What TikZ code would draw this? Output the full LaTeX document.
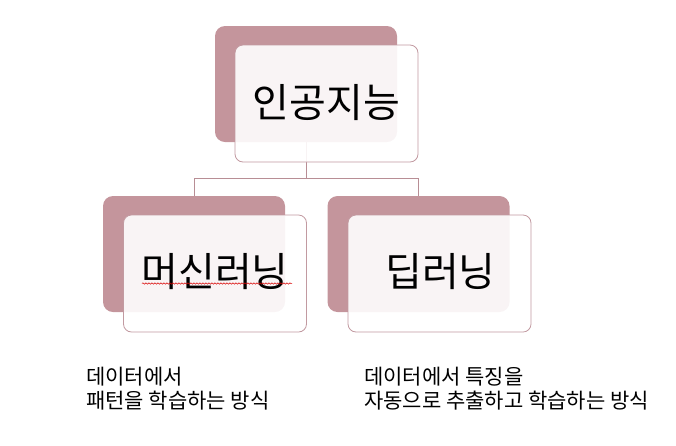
\documentclass[tikz,border=0pt]{standalone}
\usepackage{fontspec}
\setmainfont{Noto Sans CJK KR}
\usepackage{tikz}
\usetikzlibrary{positioning,calc,decorations.pathmorphing}
\definecolor{roseDark}{HTML}{C4959C}
\definecolor{roseLine}{HTML}{C29AA1}
\definecolor{roseLink}{HTML}{B88E95}
\tikzset{
  backBox/.style={fill=roseDark, rounded corners=10pt,
    minimum width=182pt, minimum height=116pt, inner sep=0pt},
  frontBox/.style={draw=roseLine, line width=0.8pt, fill=white, fill opacity=0.9,
    text opacity=1, rounded corners=8pt,
    minimum width=183pt, minimum height=117pt, inner sep=0pt,
    font=\fontsize{40}{44}\selectfont},
  %% connector lines
  linkLine/.style={draw=roseLink, line width=0.8pt},
  %% description text under the boxes
  descText/.style={align=left, inner sep=0pt,
    font=\fontsize{21}{24}\selectfont},
  squiggle/.style={draw=red!85!black, line width=0.5pt,
    decorate, decoration={snake, amplitude=0.7pt, segment length=3pt}},
}
\begin{document}
\begin{tikzpicture}[x=1pt, y=-1pt]
\useasboundingbox (0,0) rectangle (676,445);

\node[backBox] (aiBack) at (306.0, 84.0) {};
\node[backBox] (mlBack) at (194.0,254.0) {};
\node[backBox] (dlBack) at (418.5,254.0) {};

\coordinate (hub) at (306,178);
\draw[linkLine] (aiBack.south) -- (hub);
\draw[linkLine] (hub) -| (mlBack.north);
\draw[linkLine] (hub) -| (dlBack.north);

\node[frontBox] (aiFront) at (326.5,103.5) {\raisebox{5pt}{인공지능}};
\node[frontBox] (mlFront) at (215.0,273.5) {\raisebox{7pt}{머신러닝}};
\node[frontBox] (dlFront) at (439.5,273.5) {\raisebox{7pt}{\hspace*{2pt}딥러닝}};

\draw[squiggle] (142,283.5) -- (292,283.5);

\node[descText, anchor=north west] (mlDesc) at (86,367) {데이터에서\\패턴을 학습하는 방식};
\node[descText, anchor=north west] (dlDesc) at (364,367) {데이터에서 특징을\\자동으로 추출하고 학습하는 방식};

\end{tikzpicture}
\end{document}
